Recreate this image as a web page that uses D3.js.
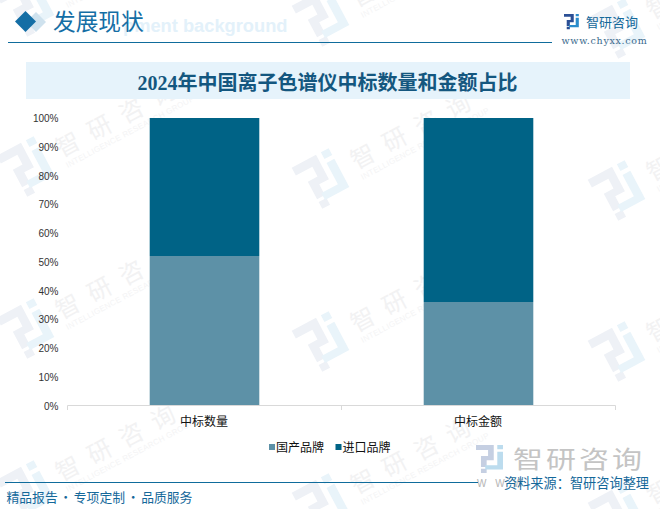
<!DOCTYPE html>
<html>
<head>
<meta charset="utf-8">
<script src="https://cdnjs.cloudflare.com/ajax/libs/d3/7.8.5/d3.min.js"></script>
<style>
body { margin: 0; background: #fff; }
text { font-family: "Noto Sans CJK SC", sans-serif; }
</style>
</head>
<body>
<div id="chart"></div>
<script>
const categories = ["中标数量", "中标金额"];
const seriesNames = ["国产品牌", "进口品牌"];
const domestic = [52, 36];
const imported = [48, 64];
const yTicks = [0, 10, 20, 30, 40, 50, 60, 70, 80, 90, 100];
const colors = ["#5d91a7", "#006386"];

const w = 660, h = 509;
const svg = d3.select("#chart").append("svg")
    .attr("width", w)
    .attr("height", h)
    .style("display", "block");

// company logo, drawn in a 38x46 box
function logo(g, color1, color2) {
    g.append("path")
        .attr("d", "M0 0H25V25H15V36H7V18H17V8H0Z M7 39H15V46H7Z")
        .attr("fill", color1);
    g.append("path")
        .attr("d", "M30 0H38V7H30Z M30 11H38V40H13V33H30Z")
        .attr("fill", color2);
}

// watermarks
const marks = [[27, 8], [27, 168], [27, 330], [27, 492],
    [322, 18], [322, 180], [322, 343], [322, 505],
    [618, 30], [618, 192], [618, 353], [618, 515]];
const wm = svg.append("g");
marks.forEach((m) => {
    const g = wm.append("g").attr("transform", `translate(${m[0]},${m[1]}) rotate(-28)`);
    logo(g.append("g").attr("transform", "translate(-21,-25) scale(1.1)"), "#eef1f6", "#e9f4fa");
    g.append("text").attr("x", 35).attr("y", 7)
        .attr("font-size", 24).attr("letter-spacing", 12).attr("fill", "#f2f2f3").text("智研咨询");
    g.append("text").attr("x", 36).attr("y", 19)
        .attr("font-size", 8).attr("letter-spacing", 0.3).attr("fill", "#f4f4f5")
        .style("font-family", "Liberation Sans").text("INTELLIGENCE RESEARCH GROUP");
});

// header
svg.append("text").attr("x", 123).attr("y", 32)
    .attr("font-size", 18.3).attr("font-weight", "bold").attr("fill", "#e3f1fa")
    .style("font-family", "Liberation Sans").text("pment background");
svg.append("path").attr("d", "M36 12L46 22L36 32L26 22Z").attr("fill", "#cfe2ee");
svg.append("path").attr("d", "M25.500 11L36 21.500L25.500 32L15 21.500Z").attr("fill", "#146ea5");
svg.append("text").attr("x", 53).attr("y", 30)
    .attr("font-size", 22.7).attr("fill", "#146ea5").text("发展现状");
svg.append("line").attr("x1", 8).attr("x2", 552).attr("y1", 42.500).attr("y2", 42.500)
    .attr("stroke", "#0f6c9c").attr("stroke-width", 1);

logo(svg.append("g").attr("transform", "translate(564,14) scale(0.39,0.33)"), "#2b4f95", "#2a8ccb");
svg.append("text").attr("x", 586).attr("y", 27)
    .attr("font-size", 13).attr("fill", "#14689a").text("智研咨询");
svg.append("text").attr("x", 561.500).attr("y", 44)
    .attr("font-size", 9.500).attr("letter-spacing", 0.7).attr("fill", "#3b6a8d")
    .style("font-family", "DejaVu Serif").text("www.chyxx.com");

// title
svg.append("rect").attr("x", 26).attr("y", 62).attr("width", 604).attr("height", 37).attr("fill", "#e6f3fb");
svg.append("text").attr("x", 327.500).attr("y", 90)
    .attr("text-anchor", "middle").attr("font-size", 20).attr("font-weight", "bold").attr("fill", "#14577f")
    .style("font-family", "'Liberation Serif','Noto Sans CJK SC'")
    .text("2024年中国离子色谱仪中标数量和金额占比");

// scales
const xScale = d3.scaleBand()
    .domain(categories)
    .range([67.5, 615.5])
    .paddingInner(0.6)
    .paddingOuter(0.3);
const yScale = d3.scaleLinear().domain([0, 100]).range([405.5, 118]);

const stacked = d3.stack().keys(seriesNames)(categories.map((c, i) => ({
    category: c, "国产品牌": domestic[i], "进口品牌": imported[i]
})));

svg.selectAll("g.series")
    .data(stacked)
    .enter()
    .append("g")
    .attr("class", "series")
    .attr("fill", (d, i) => colors[i])
    .selectAll("rect")
    .data((d) => d)
    .enter()
    .append("rect")
    .attr("x", (d) => xScale(d.data.category))
    .attr("width", xScale.bandwidth())
    .attr("y", (d) => yScale(d[1]))
    .attr("height", (d) => yScale(d[0]) - yScale(d[1]));

// y axis has labels only
const yAxis = svg.append("g")
    .attr("transform", "translate(67.5,0.5)")
    .call(d3.axisLeft(yScale).tickValues(yTicks).tickFormat((d) => d + "%").tickSize(0).tickPadding(9));
yAxis.select(".domain").remove();
yAxis.selectAll("text").attr("font-size", 10).attr("fill", "#333")
    .style("font-family", "Liberation Sans");

// x axis, ticks sit between the categories
const base = svg.append("g");
base.append("line").attr("x1", 67.5).attr("x2", 615.5).attr("y1", 405.5).attr("y2", 405.5)
    .attr("stroke", "#d9d9d9");
[67.5, 341.5, 615.5].forEach((x) => {
    base.append("line").attr("x1", x).attr("x2", x).attr("y1", 405.5).attr("y2", 410)
        .attr("stroke", "#d9d9d9");
});
svg.selectAll("text.cat")
    .data(categories)
    .enter()
    .append("text")
    .attr("class", "cat")
    .attr("x", (d) => xScale(d) + xScale.bandwidth() / 2 - 0.5)
    .attr("y", 426)
    .attr("text-anchor", "middle")
    .attr("font-size", 12)
    .attr("fill", "#111")
    .text((d) => d);

// legend
const legendX = [269, 335.5];
seriesNames.forEach((name, i) => {
    svg.append("rect").attr("x", legendX[i]).attr("y", 444).attr("width", 6).attr("height", 6).attr("fill", colors[i]);
    svg.append("text").attr("x", legendX[i] + 7).attr("y", 452)
        .attr("font-size", 12).attr("fill", "#111").text(name);
});

// big logo lower right, its text is stretched sideways
logo(svg.append("g").attr("transform", "translate(476,445) scale(0.71,0.61)"), "#c5cfe2", "#bcdcee");
svg.append("text").attr("transform", "translate(513,468) scale(1,0.8)")
    .attr("font-size", 30).attr("letter-spacing", 3).attr("fill", "#c4c4c4").text("智研咨询");
svg.append("text").attr("x", 477).attr("y", 487)
    .attr("font-size", 10).attr("letter-spacing", 3).attr("fill", "#b5b5b5")
    .style("font-family", "Liberation Sans").text("W W W");

// footer
svg.append("line").attr("x1", 5).attr("x2", 478).attr("y1", 482.500).attr("y2", 482.500)
    .attr("stroke", "#0f6c9c");
svg.append("text").attr("x", 6.500).attr("y", 502)
    .attr("font-size", 12.800).attr("word-spacing", -1.2).attr("fill", "#14689a").text("精品报告 · 专项定制 · 品质服务");
svg.append("text").attr("x", 504).attr("y", 488)
    .attr("font-size", 13.200).attr("fill", "#14689a").text("资料来源：智研咨询整理");
</script>
</body>
</html>
